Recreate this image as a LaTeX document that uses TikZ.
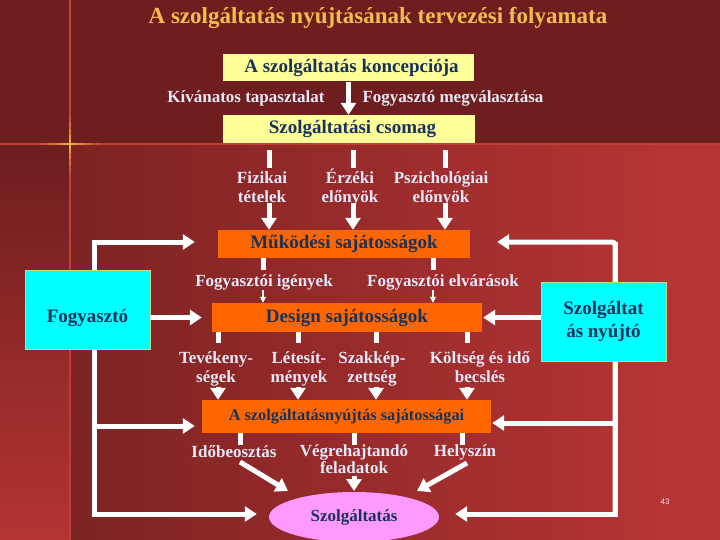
\documentclass[tikz,border=0pt]{standalone}
\usepackage{fontspec}
\setmainfont{Liberation Serif}
\setsansfont{Liberation Sans}
\usetikzlibrary{arrows.meta,shapes.geometric}
\definecolor{bgdark}{RGB}{110,30,30}
\definecolor{bgbright}{RGB}{182,52,52}
\definecolor{titlec}{RGB}{245,187,80}
\definecolor{navy}{RGB}{25,50,90}
\definecolor{lbl}{RGB}{232,232,248}
\definecolor{boxyellow}{RGB}{255,255,153}
\definecolor{boxorange}{RGB}{255,102,0}
\definecolor{boxcyan}{RGB}{0,255,255}
\definecolor{cyanborder}{RGB}{190,220,140}
\definecolor{pinkell}{RGB}{255,153,255}
\definecolor{linered}{RGB}{192,62,52}
\definecolor{glow}{RGB}{255,205,70}
\begin{document}
\begin{tikzpicture}[x=1pt,y=-1pt,
  titlestyle/.style={text=titlec,font=\bfseries\fontsize{23}{26}\selectfont,inner sep=0},
  ybox/.style={fill=boxyellow,inner sep=0,text=navy,font=\bfseries\fontsize{19}{21}\selectfont},
  obox/.style={fill=boxorange,inner sep=0,text=navy,font=\bfseries\fontsize{19}{21}\selectfont},
  cbox/.style={fill=boxcyan,draw=cyanborder,line width=0.8pt,minimum width=125pt,minimum height=79pt,inner sep=0,text=navy,align=center,font=\bfseries\fontsize{19}{23}\selectfont},
  lab/.style={text=lbl,font=\bfseries\fontsize{17}{19}\selectfont,align=center,inner sep=0},
  labm/.style={lab,text depth=0pt},
  stub/.style={white,line width=5pt},
  arr/.style={white,line width=5pt,-{Triangle[width=15pt,length=12pt]}},
  thinarr/.style={white,line width=1.5pt,-{Triangle[width=6pt,length=6pt]}}]
\useasboundingbox (0,0) rectangle (720,540);
% background
\fill[bgdark] (0,0) rectangle (720,540);
\begin{scope}
  \clip (70,144) rectangle (720,540);
  \shade[left color=bgdark,right color=bgbright] (-90,144) rectangle (670,540);
  \fill[bgbright] (669,144) rectangle (720,540);
\end{scope}
\begin{scope}
  \clip (0,144) rectangle (70,540);
  \shade[top color=bgdark,bottom color=bgbright] (0,150) rectangle (70,550);
\end{scope}
\draw[linered,line width=1.2pt] (70,0) -- (70,540);
\draw[linered,line width=1.2pt] (0,144) -- (720,144);
\foreach \l/\o in {30/0.15,22/0.2,15/0.25,9/0.3,4/0.4}
  \draw[glow,line width=1.6pt,opacity=\o] (70-\l,144) -- (70+\l,144) (70,144-\l) -- (70,144+\l);

% title
\node[titlestyle] (title) at (378,18) {A szolgáltatás nyújtásának tervezési folyamata};

% boxes
\node[ybox,minimum width=251pt,minimum height=27pt] (konc) at (348.5,68) {\hspace*{6pt}A szolgáltatás koncepciója};
\node[ybox,minimum width=252pt,minimum height=28pt] (csomag) at (348.5,129) {\hspace*{8pt}Szolgáltatási csomag};
\node[obox,minimum width=252pt,minimum height=28pt] (mukodesi) at (344,244) {Működési sajátosságok};
\node[obox,minimum width=270pt,minimum height=29pt] (design) at (347,317.5) {Design sajátosságok};
\node[obox,minimum width=289pt,minimum height=33pt,font=\bfseries\fontsize{16.3}{18}\selectfont] (saj) at (346.5,416.5) {A szolgáltatásnyújtás sajátosságai};
\node[ellipse,fill=pinkell,minimum width=170pt,minimum height=50pt,inner sep=0,text=navy,font=\bfseries\fontsize{17}{19}\selectfont] (ell) at (354,517) {Szolgáltatás};
\node[cbox,text height=30pt] (fogy) at (87.5,309.5) {Fogyasztó};
\node[cbox] (szny) at (603.5,321.5) {Szolgáltat\\ás nyújtó};

% labels
\node[lab] (kiv) at (246,98) {Kívánatos tapasztalat};
\node[lab] (fmeg) at (453,98) {Fogyasztó megválasztása};
\node[labm] (fiz) at (262,187) {Fizikai\\tételek};
\node[labm] (erz) at (350,186) {Érzéki\\előnyök};
\node[labm] (psz) at (441,187) {Pszichológiai\\előnyök};
\node[lab] (figeny) at (264,282) {Fogyasztói igények};
\node[lab] (felv) at (443,282) {Fogyasztói elvárások};
\node[labm] (tev) at (216,367) {Tevékeny-\\ségek};
\node[labm] (let) at (299,367) {Létesít-\\mények};
\node[labm] (szak) at (372,367) {Szakkép-\\zettség};
\node[labm] (kolt) at (480,367) {Költség és idő\\becslés};
\node[lab] (ido) at (234,452) {Időbeosztás};
\node[labm,font=\bfseries\fontsize{17}{17}\selectfont] (veg) at (354,459) {Végrehajtandó\\feladatok};
\node[lab] (hely) at (465,452) {Helyszín};
\node[text=lbl,font=\sffamily\fontsize{8}{9}\selectfont,inner sep=0] (pg) at (665,502) {43};

% concept -> package
\draw[arr] (konc.south) -- (csomag.north);

% package stubs and arrows into Működési
\foreach \x [count=\i] in {269,353,445} {
  \coordinate (cs\i) at (\x,168);
  \draw[stub] ([yshift=-7pt]csomag.south -| cs\i) -- (cs\i);
  \coordinate (ca\i) at (\x,203);
  \draw[arr] (ca\i) -- (ca\i |- mukodesi.north);
}
% Működési stubs and thin arrows into Design
\foreach \x [count=\i] in {263,433} {
  \coordinate (ms\i) at (\x,270);
  \draw[stub] (mukodesi.south -| ms\i) -- (ms\i);
  \coordinate (ma\i) at (\x,290);
  \draw[thinarr] (ma\i) -- (ma\i |- design.north);
}
% Design stubs and arrows into sajátosságai
\foreach \x [count=\i] in {218,298,376,467} {
  \coordinate (ds\i) at (\x,343);
  \draw[stub] (design.south -| ds\i) -- (ds\i);
  \coordinate (da\i) at (\x,387);
  \draw[arr] (da\i) -- (da\i |- saj.north);
}
% sajátosságai stubs
\foreach \x [count=\i] in {240,354,462} {
  \coordinate (ss\i) at (\x,445);
  \draw[stub] (saj.south -| ss\i) -- (ss\i);
}
% arrows into Szolgáltatás
\coordinate (g1a) at (240,462); \coordinate (g1b) at (288,491);
\coordinate (g2a) at (354,476); \coordinate (g2b) at (354,491);
\coordinate (g3a) at (467,463); \coordinate (g3b) at (417,491);
\draw[arr] (g1a) -- (g1b);
\draw[arr] (g2a) -- (g2b);
\draw[arr] (g3a) -- (g3b);

% left bracket
\coordinate (LT) at (94,242); \coordinate (LM) at (94,426); \coordinate (LB) at (94,514);
\draw[arr,shorten >=23pt] (LB) -- (LT) -- (LT -| mukodesi.west);
\draw[arr,shorten >=7pt] (LM) -- (LM -| saj.west);
\draw[arr,shorten >=12pt] (LT) -- (LB) -- (LB -| ell.west);
% right bracket
\coordinate (RT) at (615,242); \coordinate (RM) at (615,423); \coordinate (RB) at (615,514);
\draw[arr,shorten >=27pt,rounded corners=3pt] (RB) -- (RT) -- (RT -| mukodesi.east);
\draw[arr,shorten >=1pt] (RM) -- (RM -| saj.east);
\draw[arr,shorten >=16pt] (RT) -- (RB) -- (RB -| ell.east);

% side boxes drawn over the bracket lines
\node[cbox,text height=30pt] at (fogy) {Fogyasztó};
\node[cbox] at (szny) {Szolgáltat\\ás nyújtó};

% side arrows into Design
\draw[arr,shorten >=10pt] (fogy.east |- design.west) -- (design.west);
\draw[arr,shorten >=1pt] (szny.west |- design.east) -- (design.east);
\end{tikzpicture}
\end{document}
